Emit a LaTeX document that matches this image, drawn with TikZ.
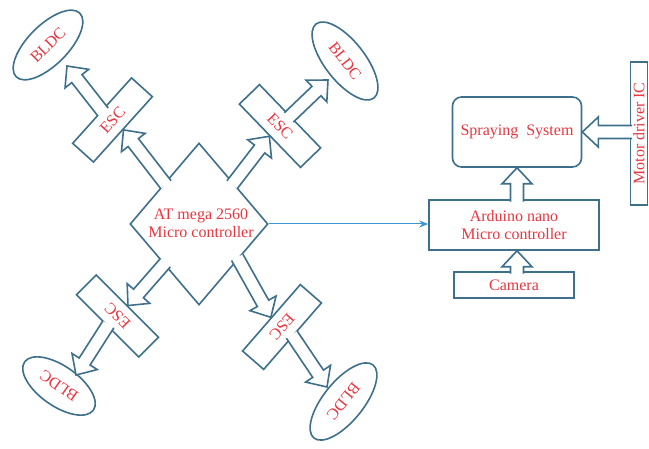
\documentclass[tikz,border=0pt]{standalone}
\usepackage{fontspec}
\setmainfont{Liberation Serif}
\usetikzlibrary{calc,shapes.geometric,arrows.meta}
\definecolor{edgecol}{RGB}{62,112,140}
\definecolor{txtcol}{RGB}{230,55,65}
\definecolor{linkcol}{RGB}{60,150,210}
\tikzset{
  lw/.style={line width=1.6pt},
  lbl/.style={text=txtcol, font=\fontsize{16}{18}\selectfont, inner sep=0pt},
  escbox/.style={lw, draw=edgecol, fill=white, rectangle, minimum width=88pt, minimum height=28pt, lbl},
  motor/.style={lw, draw=edgecol, fill=white, ellipse, minimum width=90pt, minimum height=40pt, lbl},
  plainbox/.style={lw, draw=edgecol, fill=white, rectangle, lbl, align=center},
  edge/.style={lw, draw=edgecol, line join=miter},
}
\newcommand{\barr}[2]{%
  \coordinate (ba-s) at ($(#1)!-2.5pt!(#2)$);
  \coordinate (ba-b) at ($(#2)!16pt!(#1)$);
  \fill[white] ($(ba-s)!6.5pt!90:(#2)$) -- ($(ba-b)!6.5pt!-90:(ba-s)$) -- ($(ba-b)!15pt!-90:(ba-s)$) -- (#2)
     -- ($(ba-b)!15pt!90:(ba-s)$) -- ($(ba-b)!6.5pt!90:(ba-s)$) -- ($(ba-s)!6.5pt!-90:(#2)$) -- cycle;
  \draw[edge] ($(ba-s)!6.5pt!90:(#2)$) -- ($(ba-b)!6.5pt!-90:(ba-s)$) -- ($(ba-b)!15pt!-90:(ba-s)$) -- (#2)
     -- ($(ba-b)!15pt!90:(ba-s)$) -- ($(ba-b)!6.5pt!90:(ba-s)$) -- ($(ba-s)!6.5pt!-90:(#2)$);
}
\begin{document}
\begin{tikzpicture}[x=1pt,y=1pt]
\useasboundingbox (0,0) rectangle (649,448);
\fill[white] (0,0) rectangle (649,448);
% central controller
\node[lw, draw=edgecol, fill=white, diamond, minimum width=138pt, minimum height=162pt, inner sep=0pt] (mcu) at (199,224) {};
\node[lbl, align=center] (mcutext) at (201,225) {AT mega 2560\\Micro controller};
% ESC boxes
\node[escbox, rotate=48] (esc1) at (112.5,328) {ESC};
\node[escbox, rotate=-46] (esc2) at (280,322) {ESC};
\node[escbox, rotate=135] (esc3) at (117.5,132) {ESC};
\node[escbox, rotate=229] (esc4) at (282,121) {ESC};
% motors
\node[motor, rotate=45] (bldc1) at (48,403) {BLDC};
\node[motor, rotate=-52, minimum width=94pt] (bldc2) at (345,387) {BLDC};
\node[motor, rotate=145, minimum width=84pt] (bldc3) at (59,62) {BLDC};
\node[motor, rotate=231, minimum width=94pt] (bldc4) at (343.5,46.5) {BLDC};
% right side
\node[plainbox, rounded corners=9pt, minimum width=129pt, minimum height=70pt] (spray) at (517,316) {Spraying\ \ System};
\node[plainbox, minimum width=17pt, minimum height=143pt] (drv) at (639,314.5) {};
\node[lbl, rotate=90] (drvtext) at (drv.center) {Motor driver IC};
\node[plainbox, minimum width=170pt, minimum height=50pt] (ard) at (514,223) {Arduino nano\\Micro controller};
\node[plainbox, minimum width=120pt, minimum height=26pt] (cam) at (514,163) {Camera};
% arrow end points
\coordinate (b1) at (67,382);
\coordinate (b2) at (328,368);
\coordinate (b3) at (76,73);
\coordinate (b4) at (327,61);
\coordinate (sprayin) at (spray.south);
\coordinate (ardout) at (spray.south |- ard.north);
\coordinate (ardin) at (spray.south |- ard.south);
\coordinate (camout) at (spray.south |- cam.north);
\coordinate (drvout) at (drv.west |- spray.east);
% block arrows
\barr{mcu.130}{esc1.south}
\barr{esc1.north}{b1}
\barr{mcu.50}{esc2.south}
\barr{esc2.north}{b2}
\barr{mcu.229}{esc3.south}
\barr{esc3.north}{b3}
\barr{mcu.-42}{esc4.south}
\barr{esc4.north}{b4}
\barr{ardout}{sprayin}
\barr{camout}{ardin}
\barr{drvout}{spray.east}
% link
\draw[line width=1pt, draw=linkcol, -{Stealth[length=9pt,width=7pt]}] (mcu.east) -- (mcu.east -| ard.west);
\end{tikzpicture}
\end{document}
